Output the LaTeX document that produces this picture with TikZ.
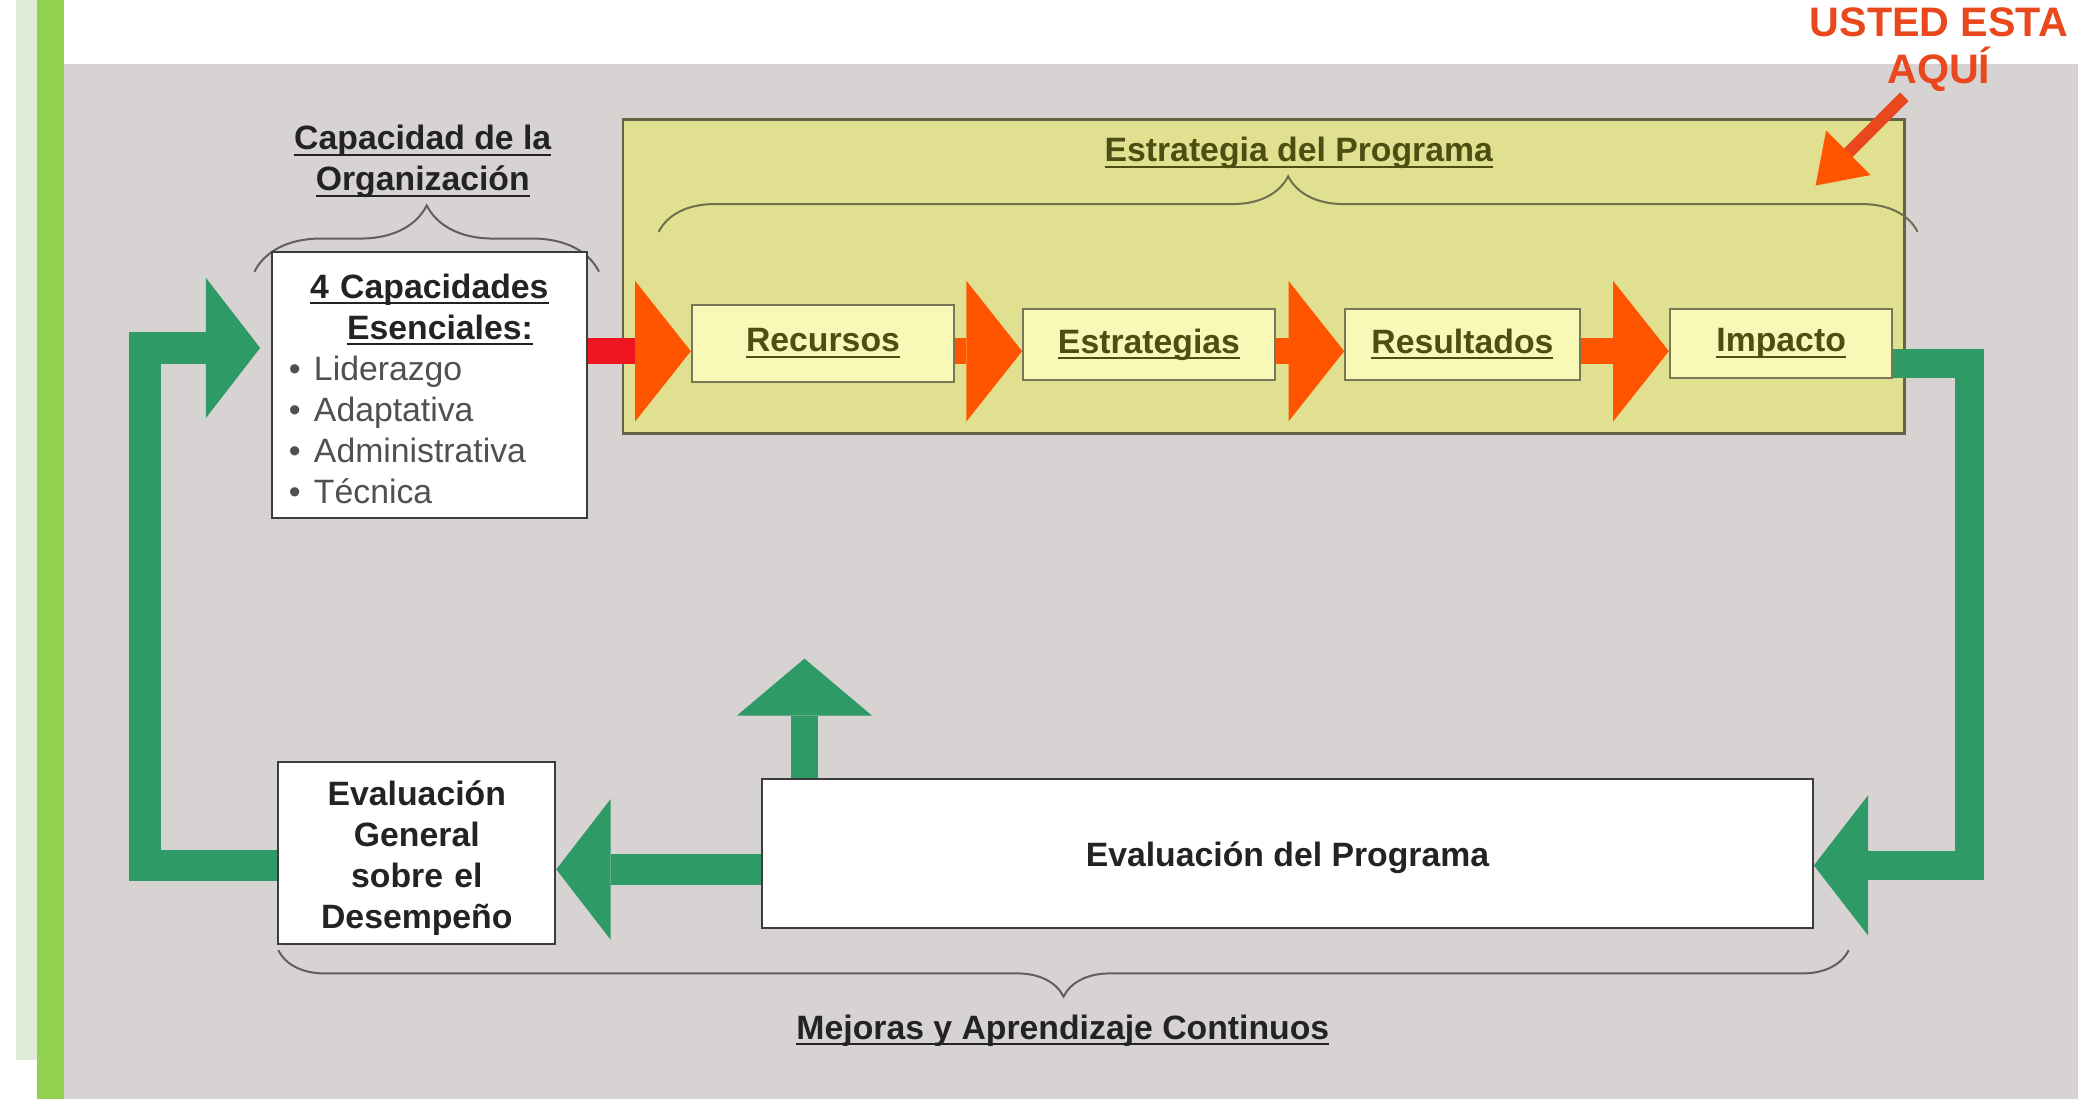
\documentclass[tikz,border=0pt]{standalone}
\usepackage{fontspec}
\setmainfont{Liberation Sans}
\usepackage{tikz}
\usetikzlibrary{calc}
\usetikzlibrary{arrows.meta}
\usetikzlibrary{positioning}
\usetikzlibrary{decorations.pathreplacing}
\definecolor{slide-gray}{RGB}{214,211,210}
\definecolor{strip-green}{RGB}{224,236,216}
\definecolor{bar-green}{RGB}{146,208,80}
\definecolor{loop-green}{RGB}{46,154,102}
\definecolor{panel-yellow}{RGB}{225,223,144}
\definecolor{panel-border}{RGB}{100,100,72}
\definecolor{step-yellow}{RGB}{250,248,182}
\definecolor{step-border}{RGB}{120,120,88}
\definecolor{olive-text}{RGB}{78,78,18}
\definecolor{olive-brace}{RGB}{110,110,80}
\definecolor{dark-text}{RGB}{35,35,35}
\definecolor{bullet-gray}{RGB}{80,80,80}
\definecolor{box-border}{RGB}{60,60,60}
\definecolor{brace-gray}{RGB}{95,95,95}
\definecolor{arrow-orange}{RGB}{255,85,0}
\definecolor{shaft-red}{RGB}{238,20,32}
\definecolor{here-red}{RGB}{232,72,28}
\newcommand{\slidefont}{\fontsize{14.5}{17.6}\selectfont}
\newsavebox{\ulbox}
\newcommand{\slideul}[1]{\sbox{\ulbox}{#1}\rlap{\rule[-2.6pt]{\wd\ulbox}{0.8pt}}\usebox{\ulbox}}

\begin{document}
\begin{tikzpicture}[x=0.02cm, y=-0.02cm,
  stepbox/.style={draw=step-border, fill=step-yellow, line width=0.03cm, inner sep=0pt,
    text height=0.42cm, text depth=0.16cm, font=\slidefont\bfseries, text=olive-text},
  whitebox/.style={draw=box-border, fill=white, line width=0.03cm, inner sep=0pt,
    font=\slidefont\bfseries, text=dark-text, align=center},
  flowarrow/.style={draw=arrow-orange, line width=0.4cm,
    -{Triangle[length=0.84cm, width=2.12cm, line width=0pt, color=arrow-orange]}},
  looparrow/.style={draw=loop-green, line width=0.48cm, line join=miter,
    -{Triangle[length=0.82cm, width=2.12cm, line width=0pt]}},
  bracket/.style={decorate, decoration={brace, amplitude=#1}, draw=brace-gray, line width=0.03cm}]
% Slide (x, y)
\useasboundingbox (0,0) rectangle (1568,829);
\fill[white] (0,0) rectangle (1568,829);
\fill[strip-green] (12,0) rectangle (28,800);
\fill[bar-green] (28,0) rectangle (48,829);
\fill[slide-gray] (48,48) rectangle (1568,829);

% ---------------------------------------------------
% Estrategia del Programa
\node[draw=panel-border, fill=panel-yellow, line width=0.04cm, inner sep=0pt,
      minimum width=19.34cm, minimum height=4.74cm] (panel) at (953.5,208.5) {};
\node[anchor=base, font=\slidefont\bfseries, text=olive-text] (ptitle) at (980,122) {\slideul{Estrategia del Programa}};
\draw[bracket=0.84cm, draw=olive-brace] (497,175) -- (1447,175);

\node[stepbox, minimum width=3.96cm, minimum height=1.16cm] (rec) at (621,259) {\slideul{Recursos}};
\node[stepbox, minimum width=3.8cm, minimum height=1.08cm] (est) at (867,260) {\slideul{Estrategias}};
\node[stepbox, minimum width=3.54cm, minimum height=1.08cm] (res) at (1103.5,260) {\slideul{Resultados}};
\node[stepbox, minimum width=3.36cm, minimum height=1.04cm] (imp) at (1344,259) {\slideul{Impacto}};

% Capacidad de la Organizacion (base = last line)
\node[anchor=base, font=\slidefont\bfseries, text=dark-text, align=center] (org) at (319,144)
     {\slideul{Capacidad de la}\\\slideul{Organización}};
\draw[bracket=1cm] (192,205) -- (452,205);
\node[draw=box-border, fill=white, line width=0.03cm, inner xsep=0.26cm, inner ysep=0pt,
      text width=4.24cm, text height=0.58cm, text depth=3.2cm, minimum height=4.02cm,
      align=left, font=\slidefont, text=bullet-gray]
      (caps) at (324,290.5)
     {\makebox[4.24cm]{\color{dark-text}\bfseries\slideul{4 Capacidades}}\\
      \makebox[4.24cm]{\color{dark-text}\bfseries\hspace*{0.32cm}\slideul{Esenciales:}}\\
      \textbullet\hspace{0.2cm}Liderazgo\\
      \textbullet\hspace{0.2cm}Adaptativa\\
      \textbullet\hspace{0.2cm}Administrativa\\
      \textbullet\hspace{0.2cm}Técnica};

% Flow
\coordinate[] (row) at (0,265);
\draw[flowarrow, draw=shaft-red] (caps.east |- row) -- (rec.west |- row);
\draw[flowarrow] (rec.east |- row) -- (est.west |- row);
\draw[flowarrow] (est.east |- row) -- (res.west |- row);
\draw[flowarrow] (res.east |- row) -- (imp.west |- row);

% ---------------------------------------------------
% Evaluacion
\node[whitebox, minimum width=4.18cm, minimum height=2.74cm, text width=4.0cm,
      text height=0.54cm, text depth=1.96cm]
     (gen) at (314.5,643.5) {Evaluación\\General\\sobre el\\Desempeño};
\node[whitebox, minimum width=15.86cm, minimum height=2.24cm, text height=0.5cm, text depth=0.1cm]
     (prog) at (971.5,644) {Evaluación del Programa};
\draw[bracket=0.7cm] (1395,717) -- (210,717);
\node[anchor=base, font=\slidefont\bfseries, text=dark-text] (learn) at (802,784) {\slideul{Mejoras y Aprendizaje Continuos}};

% Loops
\coordinate[] (lb) at (109.5,653);
\coordinate[] (lt) at (109.5,262.5);
\draw[looparrow, shorten >=0.16cm] (gen.west |- lb) -- (lb) -- (lt) -- (caps.west |- lt);

\coordinate[] (rt) at (1486,274);
\coordinate[] (rb) at (1486,653);
\draw[looparrow, line width=0.44cm] (imp.east |- rt) -- (rt) -- (rb) -- (prog.east |- rb);

\coordinate[] (mid) at (0,656);
\draw[looparrow, line width=0.46cm] (prog.west |- mid) -- (gen.east |- mid);

\coordinate[] (up) at (607,497);
\draw[looparrow, line width=0.4cm, -{Triangle[length=0.86cm, width=2.04cm, line width=0pt]}]
     (prog.north -| up) -- (up);

% ---------------------------------------------------
% Usted esta aqui (base = last line)
\node[anchor=base, font=\fontsize{17.7}{20}\selectfont\bfseries, text=here-red, align=center] (here) at (1463,63)
     {USTED ESTA\\AQUÍ};
\coordinate[] (ptr) at (1437,73);
\coordinate[] (ptrtip) at (1370,140);
\draw[here-red, line width=0.18cm,
      -{Triangle[length=0.7cm, width=0.95cm, line width=0pt, color=arrow-orange]}] (ptr) -- (ptrtip);
\end{tikzpicture}
\end{document}
